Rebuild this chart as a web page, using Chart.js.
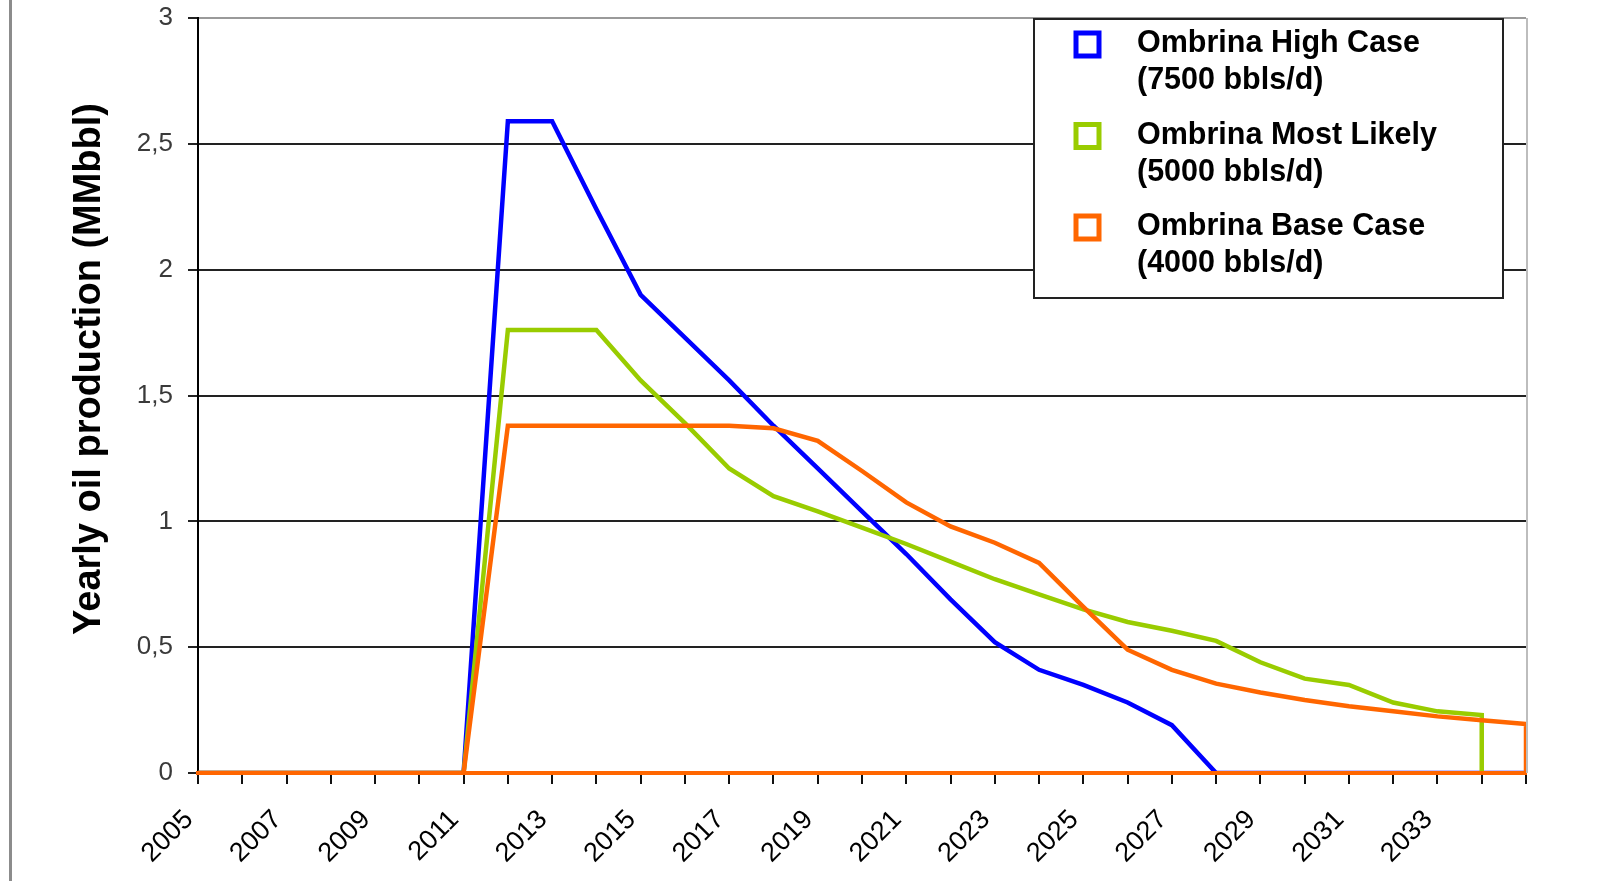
<!DOCTYPE html>
<html>
<head>
<meta charset="utf-8">
<script src="https://cdn.jsdelivr.net/npm/chart.js@4.4.1/dist/chart.umd.min.js"></script>
<style>
    html, body { margin: 0; padding: 0; background: #fff; }
    #wrap { position: relative; width: 1612px; height: 881px; overflow: hidden; }
    #frame { position: absolute; left: 9px; top: 0; width: 3px; height: 881px; background: #8c8c8c; }
</style>
</head>
<body>
<div id="wrap">
    <canvas id="chart" width="1612" height="881"></canvas>
    <div id="frame"></div>
</div>
<script>
(function () {
    var years = [2005, 2006, 2007, 2008, 2009, 2010, 2011, 2012, 2013, 2014,
        2015, 2016, 2017, 2018, 2019, 2020, 2021, 2022, 2023, 2024,
        2025, 2026, 2027, 2028, 2029, 2030, 2031, 2032, 2033, 2034, 2035];

    // MMbbl per year (null = no data)
    var highCase = [0, 0, 0, 0, 0, 0, 0, 2.59, 2.59, 2.24,
        1.90, 1.73, 1.56, 1.38, 1.21, 1.04, 0.87, 0.69, 0.52, 0.41,
        0.35, 0.28, 0.19, 0, 0, 0, 0, 0, 0, 0, 0];
    var mostLikely = [0, 0, 0, 0, 0, 0, 0, 1.76, 1.76, 1.76,
        1.56, 1.39, 1.21, 1.10, 1.04, 0.975, 0.91, 0.84, 0.77, 0.71,
        0.65, 0.60, 0.565, 0.525, 0.44, 0.375, 0.35, 0.28, 0.245, 0.23, null];
    var baseCase = [0, 0, 0, 0, 0, 0, 0, 1.38, 1.38, 1.38,
        1.38, 1.38, 1.38, 1.37, 1.32, 1.20, 1.075, 0.98, 0.915, 0.835,
        0.66, 0.49, 0.41, 0.355, 0.32, 0.29, 0.265, 0.245, 0.225, 0.21, 0.195];

    var seriesNames = ['Ombrina High Case', 'Ombrina Most Likely', 'Ombrina Base Case'];
    var seriesRates = ['(7500 bbls/d)', '(5000 bbls/d)', '(4000 bbls/d)'];
    var seriesColors = ['#0000ff', '#99cc00', '#ff6600'];
    var yTitle = 'Yearly oil production (MMbbl)';

    // area outline: last point drops straight down to zero
    function toPoints(values) {
        var pts = [];
        years.forEach(function (yr, i) {
            if (values[i] != null) pts.push({ x: yr, y: values[i] });
        });
        var last = pts[pts.length - 1];
        if (last.y !== 0) pts.push({ x: last.x, y: 0 });
        return pts;
    }

    function makeSet(idx, values, order) {
        return {
            label: seriesNames[idx],
            data: toPoints(values),
            borderColor: seriesColors[idx],
            backgroundColor: seriesColors[idx],
            borderWidth: 4.5,
            pointRadius: 0,
            tension: 0,
            order: order
        };
    }

    var legendPlugin = {
        id: 'boxLegend',
        afterDraw: function (chart) {
            var ctx = chart.ctx;
            var area = chart.chartArea;
            ctx.save();

            // plot right edge
            ctx.strokeStyle = '#bdbdbd';
            ctx.lineWidth = 2;
            ctx.beginPath();
            ctx.moveTo(area.right + 1, area.top);
            ctx.lineTo(area.right + 1, area.bottom);
            ctx.stroke();

            // legend box
            var bx = 1034, by = 19, bw = 469, bh = 279;
            ctx.fillStyle = '#fff';
            ctx.fillRect(bx, by, bw, bh);
            ctx.strokeStyle = '#222';
            ctx.lineWidth = 2;
            ctx.strokeRect(bx, by, bw, bh);

            ctx.font = 'bold 30.5px "Liberation Sans", Arial, sans-serif';
            ctx.textBaseline = 'middle';
            ctx.textAlign = 'left';
            for (var i = 0; i < seriesNames.length; i++) {
                var cy = 44 + i * 91.5;
                ctx.strokeStyle = seriesColors[i];
                ctx.lineWidth = 5;
                ctx.strokeRect(1076, cy - 11, 23, 23);
                ctx.fillStyle = '#000';
                ctx.fillText(seriesNames[i], 1137, cy);
                ctx.fillText(seriesRates[i], 1137, cy + 37);
            }

            // y axis title
            ctx.translate(90, 369);
            ctx.rotate(-Math.PI / 2);
            ctx.textAlign = 'center';
            ctx.font = 'bold 38px "Liberation Sans", Arial, sans-serif';
            ctx.fillStyle = '#000';
            ctx.fillText(yTitle, 0, 0);
            ctx.restore();
        }
    };

    var ctx = document.getElementById('chart').getContext('2d');
    new Chart(ctx, {
        type: 'line',
        data: {
            datasets: [
                makeSet(0, highCase, 3),
                makeSet(1, mostLikely, 2),
                makeSet(2, baseCase, 1)
            ]
        },
        options: {
            responsive: false,
            animation: false,
            layout: { padding: { left: 0, top: 18, right: 86, bottom: 0 } },
            plugins: {
                legend: { display: false },
                tooltip: { enabled: false }
            },
            scales: {
                x: {
                    type: 'linear',
                    min: 2005,
                    max: 2035,
                    afterFit: function (s) {
                        s.height = 108;
                        s.paddingLeft = 0;
                        s.paddingRight = 0;
                    },
                    border: { color: '#ff6600', width: 4, z: 1 },
                    grid: {
                        drawOnChartArea: false,
                        tickLength: 11,
                        color: '#111',
                        lineWidth: 2
                    },
                    ticks: {
                        stepSize: 1,
                        autoSkip: false,
                        maxRotation: 45,
                        minRotation: 45,
                        padding: 20,
                        labelOffset: -9,
                        color: '#000',
                        font: { family: '"Liberation Sans", Arial, sans-serif', size: 27 },
                        callback: function (v) {
                            return ((v - 2005) % 2 === 0 && v <= 2033) ? String(v) : '';
                        }
                    }
                },
                y: {
                    min: 0,
                    max: 3,
                    afterFit: function (s) {
                        s.width = 198;
                        s.paddingTop = 0;
                        s.paddingBottom = 0;
                    },
                    border: { color: '#000', width: 2 },
                    grid: {
                        tickLength: 10,
                        lineWidth: 2,
                        tickColor: '#222',
                        color: function (c) {
                            return c.tick && c.tick.value === 3 ? '#9a9a9a' : '#222';
                        }
                    },
                    ticks: {
                        stepSize: 0.5,
                        padding: 15,
                        color: '#3a3a3a',
                        font: { family: '"Liberation Sans", Arial, sans-serif', size: 26 },
                        callback: function (v) {
                            return String(v).replace('.', ',');
                        }
                    }
                }
            }
        },
        plugins: [legendPlugin]
    });
})();
</script>
</body>
</html>
